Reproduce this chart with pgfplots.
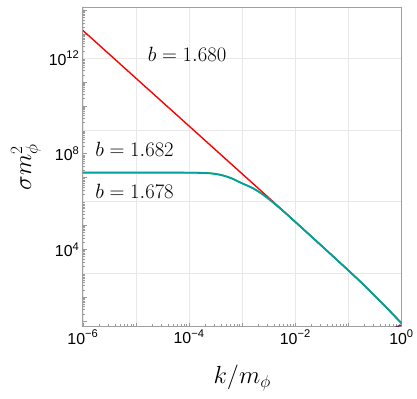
\documentclass[border=0pt]{standalone}
\usepackage[no-math]{fontspec}
\setmainfont{Liberation Sans}
\usepackage{pgfplots}
\pgfplotsset{compat=1.18}

\definecolor{resred}{RGB}{255,0,0}
\definecolor{resteal}{RGB}{0,160,160}
\definecolor{resgreen}{RGB}{95,180,45}
\definecolor{respurple}{RGB}{100,40,110}

\begin{document}
\begin{tikzpicture}
\begin{axis}[
    scale only axis,
    width=319bp, height=319bp,
    xmode=log, ymode=log,
    xmin=1e-6, xmax=1,
    ymin=5.888, ymax=1.259e14,
    axis line style={draw=gray!75, line width=1bp},
    tick pos=left,
    tick align=inside,
    tick style={gray!80, line width=0.6bp},
    major tick length=4bp, minor tick length=2.5bp,
    xtick={1e-6,1e-5,1e-4,1e-3,1e-2,1e-1,1},
    xticklabels={10\textsuperscript{−6},,10\textsuperscript{−4},,10\textsuperscript{−2},,10\textsuperscript{0}},
    ytick={1e1,1e2,1e3,1e4,1e5,1e6,1e7,1e8,1e9,1e10,1e11,1e12,1e13,1e14},
    yticklabels={,,,10\textsuperscript{4},,,,10\textsuperscript{8},,,,10\textsuperscript{12},,},
    xmajorgrids, ymajorgrids=false,
    extra y ticks={1e3,1e6,1e9,1e12},
    extra y tick labels={},
    extra y tick style={grid=major, major tick length=0pt},
    grid style={gray!18, line width=0.6bp},
    tick label style={font=\fontsize{16}{18}\selectfont},
    xlabel={$k/m_\phi$},
    ylabel={$\sigma m_\phi^2$},
    label style={font=\fontsize{27}{30}\selectfont},
    xlabel style={at={(axis description cs:0.5,-0.161)}, anchor=center},
    ylabel style={at={(axis description cs:-0.179,0.5)}, anchor=center},
]
% b = 1.680
\addplot[resred, line width=1.4bp, smooth] coordinates {
    (1e-6,1.445e13) (1e-4,1.445e9) (1e-3,1.445e7) (2.512e-3,2.291e6) (3.981e-3,9.120e5)
    (6.310e-3,3.631e5) (1e-2,1.413e5) (3.162e-2,1.380e4) (0.1,1.318e3)
    (0.1778,398.1) (0.3162,112.2) (0.5623,30.90) (1,8.128)
};
% b = 1.682
\addplot[resgreen, line width=1.5bp, smooth] coordinates {
    (1e-6,1.660e7) (1e-5,1.660e7) (1e-4,1.645e7) (1.585e-4,1.625e7)
    (2.512e-4,1.550e7) (3.981e-4,1.330e7) (6.310e-4,9.550e6) (1e-3,5.820e6)
    (1.585e-3,3.670e6) (2.512e-3,1.905e6) (3.981e-3,8.511e5) (6.310e-3,3.548e5)
    (1e-2,1.413e5) (3.162e-2,1.380e4) (0.1,1.318e3) (0.1778,398.1)
    (0.3162,112.2) (0.5623,30.90) (1,8.128)
};
% b = 1.678
\addplot[resteal, line width=1.8bp, smooth] coordinates {
    (1e-6,1.622e7) (1e-5,1.622e7) (1e-4,1.603e7) (1.585e-4,1.585e7)
    (2.512e-4,1.514e7) (3.981e-4,1.288e7) (6.310e-4,9.333e6) (1e-3,5.754e6)
    (1.585e-3,3.631e6) (2.512e-3,1.905e6) (3.981e-3,8.511e5) (6.310e-3,3.548e5)
    (1e-2,1.413e5) (3.162e-2,1.380e4) (0.1,1.318e3) (0.1778,398.1)
    (0.3162,112.2) (0.5623,30.90) (1,8.128)
};
\addplot[respurple, line width=1.5bp] coordinates {
    (0.7,5.0) (0.85,6.0) (1,6.8)
};
\node[anchor=base west, inner sep=0pt, font=\fontsize{20}{24}\selectfont]
    at (axis cs:1.66e-5,7.08e11) {$b = 1.680$};
\node[anchor=base west, inner sep=0pt, font=\fontsize{20}{24}\selectfont]
    at (axis cs:1.70e-6,7.41e7) {$b = 1.682$};
\node[anchor=base west, inner sep=0pt, font=\fontsize{20}{24}\selectfont]
    at (axis cs:1.70e-6,1.38e6) {$b = 1.678$};
\end{axis}
\path ([xshift=-83bp,yshift=-72.3bp]current axis.south west)
    rectangle ([xshift=14.7bp,yshift=8bp]current axis.north east);
\end{tikzpicture}
\end{document}
